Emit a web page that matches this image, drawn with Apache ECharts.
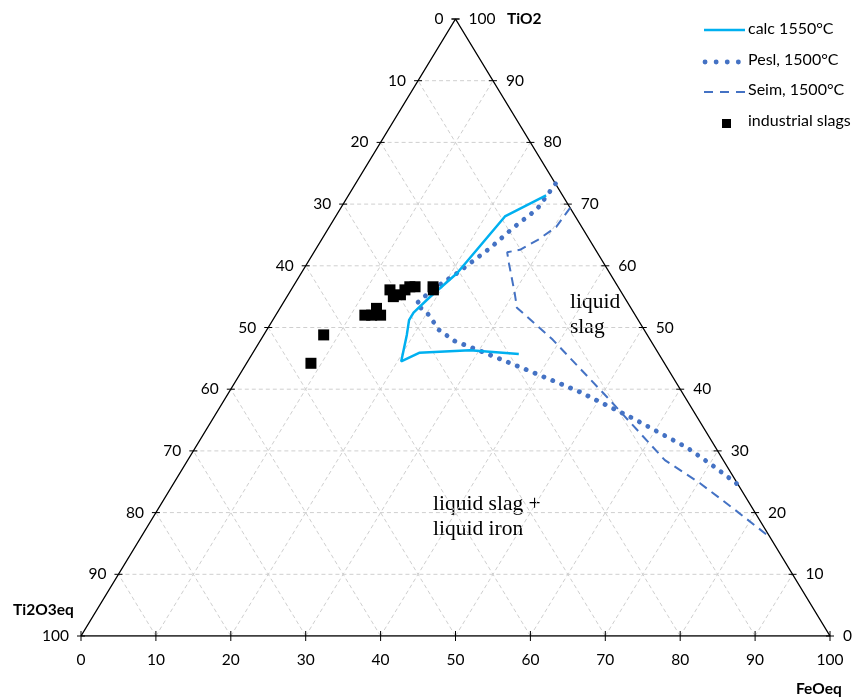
<!DOCTYPE html>
<html><head><meta charset="utf-8">
<script src="https://cdn.jsdelivr.net/npm/echarts@6/dist/echarts.min.js"></script>
<style>html,body{margin:0;padding:0;background:#fff}#c{width:855px;height:699px}</style>
</head><body><div id="c"></div>
<script>
// ternary axes: TiO2 (top), FeOeq (bottom-right), Ti2O3eq (bottom-left)
const tickValues = [0, 10, 20, 30, 40, 50, 60, 70, 80, 90, 100];

// calc 1550°C  [TiO2, FeOeq]
const calcTiO2 = [71.4, 68.0, 58.8, 54.9, 52.4, 51.2, 48.8, 44.5, 45.9, 46.3, 45.7];
const calcFeO  = [26.4, 22.6, 20.8, 19.1, 18.2, 18.2, 19.1, 20.5, 22.2, 28.8, 35.6];

// Pesl, 1500°C
const peslTiO2 = [73.3, 69.2, 66.1, 62.9, 58.8, 56.2, 53.8, 52.4, 49.6, 47.8, 46.0, 42.8, 39.7, 35.3, 30.5, 27.7, 24.5];
const peslFeO  = [26.7, 26.3, 24.6, 23.2, 20.8, 18.9, 17.8, 20.0, 23.0, 26.0, 30.7, 38.8, 46.5, 56.0, 65.7, 70.4, 75.5];

// Seim, 1500°C
const seimTiO2 = [69.4, 66.3, 64.2, 62.6, 62.2, 60.3, 55.6, 53.2, 48.0, 38.7, 28.5, 24.8, 20.7, 16.0];
const seimFeO  = [30.6, 30.3, 28.9, 27.3, 25.8, 27.0, 30.1, 31.6, 39.0, 50.9, 63.7, 70.2, 76.7, 84.0];

// industrial slags
const slagTiO2 = [44.2, 48.8, 52.0, 52.0, 53.1, 52.0, 56.1, 55.0, 55.3, 56.1, 56.6, 56.6, 56.6, 56.1];
const slagFeO  = [8.6, 8.0, 11.9, 12.8, 12.9, 14.0, 13.2, 14.2, 15.0, 15.2, 15.6, 16.3, 18.7, 19.0];

function tern(t, f) { return [f + t / 2, t]; }
function toXY(ts, fs) { return ts.map((t, i) => tern(t, fs[i])); }

const FONT = 'Lato';
// grid lines
const gridSegs = [];
tickValues.slice(1, -1).forEach(k => {
  const a = tern(k, 0), b = tern(k, 100 - k);          // TiO2 const
  gridSegs.push([a[0], a[1], b[0], b[1]]);
  const c = tern(0, k), d = tern(100 - k, k);          // FeO const
  gridSegs.push([c[0], c[1], d[0], d[1]]);
  const e = tern(0, 100 - k), g = tern(100 - k, 0);    // Ti2O3 const
  gridSegs.push([e[0], e[1], g[0], g[1]]);
});

// ticks: [side, k]
const tickItems = [];
tickValues.forEach(k => { tickItems.push([0, k]); tickItems.push([1, k]); tickItems.push([2, k]); });

const triangle = [tern(0, 0), tern(0, 100), tern(100, 0), tern(0, 0)];

const chart = echarts.init(document.getElementById('c'));
chart.setOption({
  animation: false,
  backgroundColor: '#fff',
  grid: { left: 81, top: 19, width: 749, height: 617 },
  xAxis: { type: 'value', min: 0, max: 100, show: false },
  yAxis: { type: 'value', min: 0, max: 100, show: false },
  series: [
    {
      type: 'custom', clip: false, silent: true, z: 1,
      data: gridSegs,
      encode: { x: [0, 2], y: [1, 3] },
      renderItem: (p, api) => {
        const a = api.coord([api.value(0), api.value(1)]);
        const b = api.coord([api.value(2), api.value(3)]);
        return { type: 'line', shape: { x1: a[0], y1: a[1], x2: b[0], y2: b[1] },
          style: { stroke: '#cfcfcf', lineWidth: 1, lineDash: [4, 3] } };
      }
    },
    {
      type: 'line', data: triangle, symbol: 'none', silent: true, z: 2,
      lineStyle: { color: '#000', width: 1.4 }
    },
    {
      type: 'custom', clip: false, silent: true, z: 3,
      data: tickItems,
      renderItem: (p, api) => {
        const side = api.value(0), k = api.value(1);
        let pt, line, txt;
        const st = { fill: '#000', fontSize: 15.5, fontFamily: FONT };
        if (side === 0) {
          pt = api.coord(tern(0, k));
          line = { x1: pt[0], y1: pt[1] - 5, x2: pt[0], y2: pt[1] + 5 };
          txt = Object.assign({ text: String(k), x: pt[0], y: pt[1] + 24, align: 'center', verticalAlign: 'middle' }, st);
        } else if (side === 1) {
          pt = api.coord(tern(k, 0));
          line = { x1: pt[0] - 4, y1: pt[1], x2: pt[0] + 4, y2: pt[1] };
          txt = Object.assign({ text: String(100 - k), x: pt[0] - 12, y: pt[1], align: 'right', verticalAlign: 'middle' }, st);
        } else {
          pt = api.coord(tern(k, 100 - k));
          line = { x1: pt[0] - 4, y1: pt[1], x2: pt[0] + 4, y2: pt[1] };
          txt = Object.assign({ text: String(k), x: pt[0] + 13, y: pt[1], align: 'left', verticalAlign: 'middle' }, st);
        }
        return { type: 'group', children: [
          { type: 'line', shape: line, style: { stroke: '#000', lineWidth: 1 } },
          { type: 'text', style: txt }
        ] };
      }
    },
    {
      name: 'Seim, 1500°C', type: 'line', data: toXY(seimTiO2, seimFeO), symbol: 'none', z: 5,
      lineStyle: { color: '#4472C4', width: 2, type: [9, 6] }
    },
    {
      name: 'Pesl, 1500°C', type: 'line', data: toXY(peslTiO2, peslFeO), symbol: 'none', z: 5,
      lineStyle: { color: '#4472C4', width: 4.8, type: [0.1, 9.5], cap: 'round' }
    },
    {
      name: 'calc 1550°C', type: 'line', data: toXY(calcTiO2, calcFeO), symbol: 'none', z: 6,
      lineStyle: { color: '#00B0F0', width: 2.5 }
    },
    {
      name: 'industrial slags', type: 'scatter', data: toXY(slagTiO2, slagFeO), z: 7,
      symbol: 'rect', symbolSize: 11, itemStyle: { color: '#000', opacity: 1 }
    }
  ],
  graphic: [
    { type: 'text', left: 13, top: 602, style: { text: 'Ti2O3eq', fontSize: 15.5, fontWeight: 'bold', fontFamily: FONT, fill: '#000' } },
    { type: 'text', left: 507, top: 11, style: { text: 'TiO2', fontSize: 15.5, fontWeight: 'bold', fontFamily: FONT, fill: '#000' } },
    { type: 'text', left: 796, top: 681, style: { text: 'FeOeq', fontSize: 15.5, fontWeight: 'bold', fontFamily: FONT, fill: '#000' } },
    { type: 'text', left: 570, top: 290, style: { text: 'liquid\nslag', fontSize: 21.5, lineHeight: 25, fontFamily: 'Liberation Serif', fill: '#000' } },
    { type: 'text', left: 433, top: 492, style: { text: 'liquid slag +\nliquid iron', fontSize: 21.5, lineHeight: 25, fontFamily: 'Liberation Serif', fill: '#000' } },
    { type: 'line', shape: { x1: 704, y1: 30, x2: 745, y2: 30 }, style: { stroke: '#00B0F0', lineWidth: 2.5 } },
    { type: 'line', shape: { x1: 705, y1: 62, x2: 742, y2: 62 }, style: { stroke: '#4472C4', lineWidth: 4.8, lineDash: [0.1, 11], lineCap: 'round' } },
    { type: 'line', shape: { x1: 704, y1: 92, x2: 745, y2: 92 }, style: { stroke: '#4472C4', lineWidth: 2, lineDash: [9, 7] } },
    { type: 'rect', shape: { x: 722, y: 119, width: 9, height: 9 }, style: { fill: '#000' } },
    { type: 'text', left: 748, top: 21, style: { text: 'calc 1550°C', fontSize: 16, fontFamily: FONT, fill: '#000' } },
    { type: 'text', left: 748, top: 52, style: { text: 'Pesl, 1500°C', fontSize: 16, fontFamily: FONT, fill: '#000' } },
    { type: 'text', left: 748, top: 82, style: { text: 'Seim, 1500°C', fontSize: 16, fontFamily: FONT, fill: '#000' } },
    { type: 'text', left: 748, top: 113, style: { text: 'industrial slags', fontSize: 16, fontFamily: FONT, fill: '#000' } }
  ]
});
</script></body></html>
